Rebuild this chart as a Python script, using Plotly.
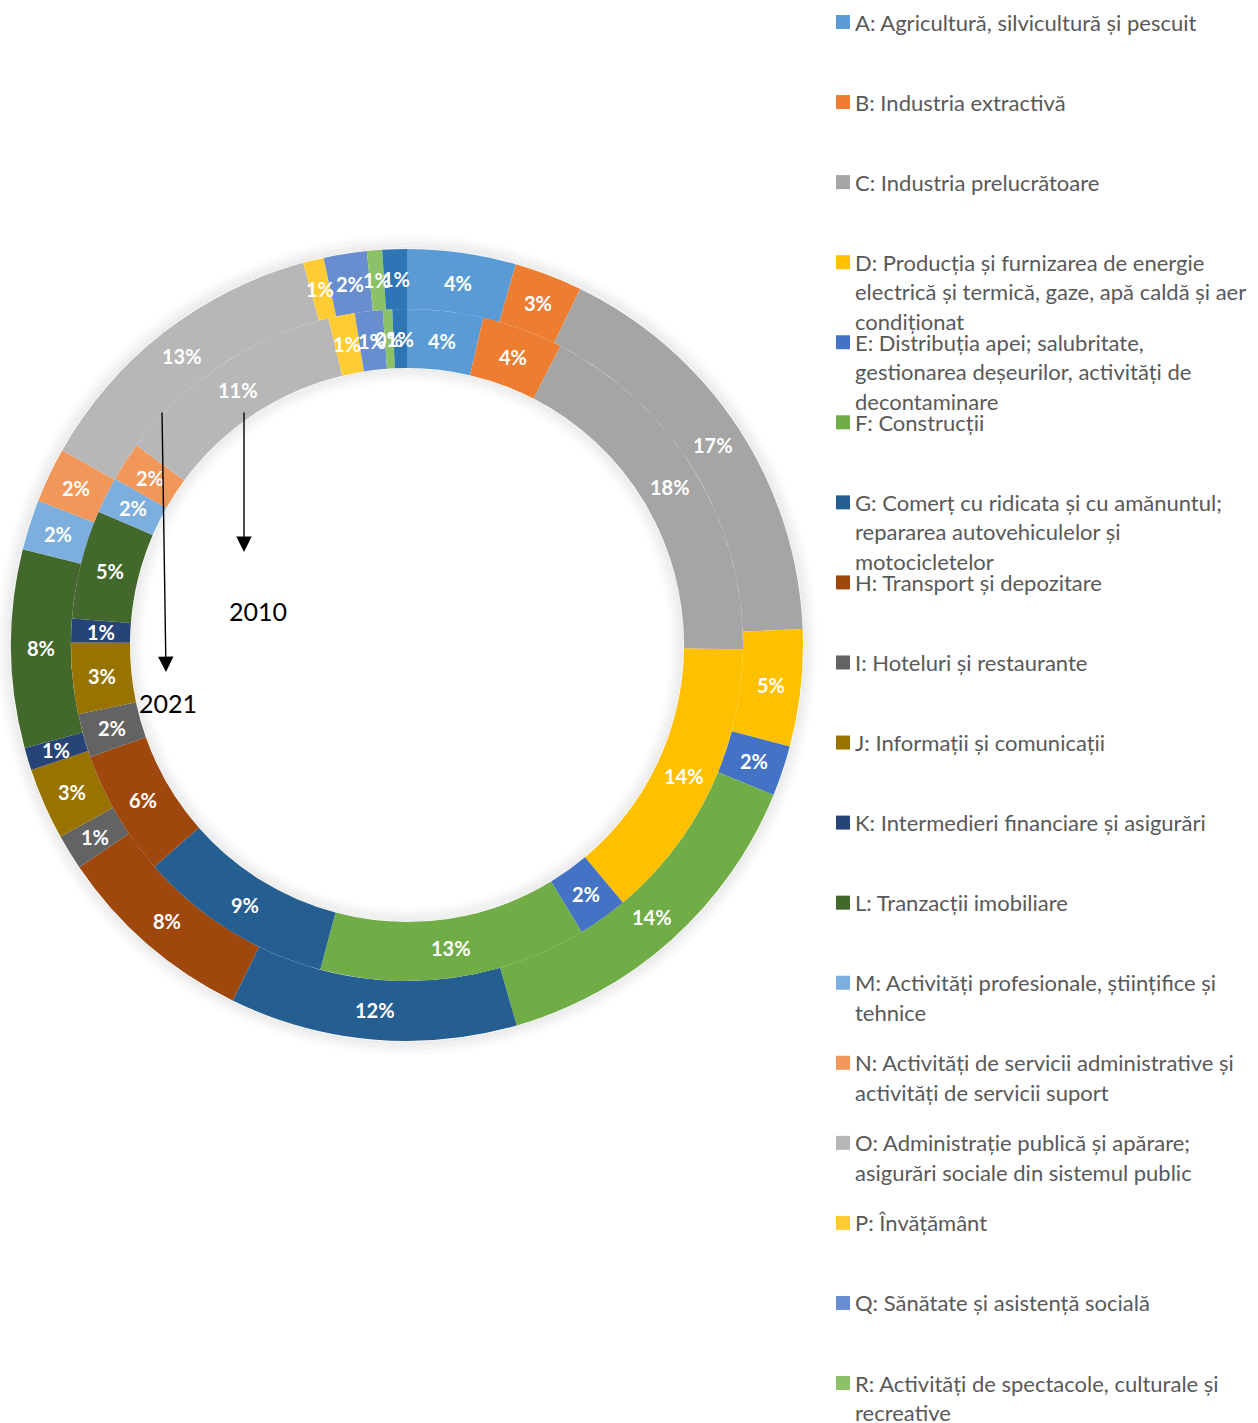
import math
import plotly.graph_objects as go

W, H = 1258, 1423

# ---------------- data ----------------
codes = ["A", "B", "C", "D", "E", "F", "G", "H", "I", "J", "K", "L", "M", "N", "O", "P", "Q", "R", "S"]

names = [
    "A: Agricultură, silvicultură și pescuit",
    "B: Industria extractivă",
    "C: Industria prelucrătoare",
    "D: Producția și furnizarea de energie electrică și termică, gaze, apă caldă și aer condiționat",
    "E: Distribuția apei; salubritate, gestionarea deșeurilor, activități de decontaminare",
    "F: Construcții",
    "G: Comerț cu ridicata și cu amănuntul; repararea autovehiculelor și motocicletelor",
    "H: Transport și depozitare",
    "I: Hoteluri și restaurante",
    "J: Informații și comunicații",
    "K: Intermedieri financiare și asigurări",
    "L: Tranzacții imobiliare",
    "M: Activități profesionale, științifice și tehnice",
    "N: Activități de servicii administrative și activități de servicii suport",
    "O: Administrație publică și apărare; asigurări sociale din sistemul public",
    "P: Învățământ",
    "Q: Sănătate și asistență socială",
    "R: Activități de spectacole, culturale și recreative",
    "S: Alte activități de servicii",
]

# legend text as wrapped in the reference (S is cut off there)
legend_lines = [
    ["A: Agricultură, silvicultură și pescuit"],
    ["B: Industria extractivă"],
    ["C: Industria prelucrătoare"],
    ["D: Producția și furnizarea de energie", "electrică și termică, gaze, apă caldă și aer", "condiționat"],
    ["E: Distribuția apei; salubritate,", "gestionarea deșeurilor, activități de", "decontaminare"],
    ["F: Construcții"],
    ["G: Comerț cu ridicata și cu amănuntul;", "repararea autovehiculelor și", "motocicletelor"],
    ["H: Transport și depozitare"],
    ["I: Hoteluri și restaurante"],
    ["J: Informații și comunicații"],
    ["K: Intermedieri financiare și asigurări"],
    ["L: Tranzacții imobiliare"],
    ["M: Activități profesionale, științifice și", "tehnice"],
    ["N: Activități de servicii administrative și", "activități de servicii suport"],
    ["O: Administrație publică și apărare;", "asigurări sociale din sistemul public"],
    ["P: Învățământ"],
    ["Q: Sănătate și asistență socială"],
    ["R: Activități de spectacole, culturale și", "recreative"],
]

# shares (%) - outer ring 2021, inner ring 2010
values_2021 = [4.43, 2.78, 17.16, 4.77, 2.05, 14.36, 11.73, 8.26, 1.44, 2.94, 0.92,
               8.08, 2.05, 2.25, 12.6, 0.84, 1.76, 0.62, 1.0]
values_2010 = [3.65, 3.9, 17.65, 13.7, 2.4, 12.86, 9.38, 6.06, 2.1, 3.43, 1.14,
               5.23, 1.75, 1.88, 11.12, 1.27, 1.34, 0.45, 0.7]

colors = ["#5B9BD5", "#ED7D31", "#A5A5A5", "#FFC000", "#4472C4", "#70AD47",
          "#255E91", "#9E480E", "#636363", "#997300", "#264478", "#43682B",
          "#7CAFDD", "#F1975A", "#B7B7B7", "#FFCD33", "#698ED0", "#8CC168", "#2E75B6"]

years = ["2021", "2010"]

# ---------------- geometry (pixels) ----------------
CX, CY = 407, 645
R_OUT, R_MID, R_IN = 396, 336, 277


def px(x):
    return x / W


def py(y):
    return 1 - y / H


fig = go.Figure()

rings = [(years[0], values_2021, R_OUT, R_MID), (years[1], values_2010, R_MID, R_IN)]
for yr, vals, r1, r0 in rings:
    fig.add_trace(go.Pie(
        name=yr,
        labels=names,
        values=vals,
        hole=r0 / r1,
        sort=False,
        direction="clockwise",
        rotation=0,
        marker=dict(colors=colors, line=dict(width=0)),
        textinfo="none",
        hovertemplate="%{label}<br>" + yr + ": %{percent:.0%}<extra></extra>",
        domain=dict(x=[px(CX - r1), px(CX + r1)], y=[py(CY + r1), py(CY - r1)]),
        showlegend=False,
    ))

annotations = []
shapes = []

# data labels, placed at the middle of each ring segment
for yr, vals, r1, r0 in rings:
    tot = sum(vals)
    cum = 0.0
    rm = (r1 + r0) / 2
    for v in vals:
        f = (cum + v / 2) / tot
        th = 2 * math.pi * f
        x = CX + rm * math.sin(th)
        y = CY - rm * math.cos(th)
        annotations.append(dict(
            x=px(x), y=py(y), xref="paper", yref="paper",
            text=f"{v / tot:.0%}", showarrow=False,
            font=dict(family="Lato", size=20, color="white", weight="bold"),
            xanchor="center", yanchor="middle",
        ))
        cum += v

# soft shadow around the donut
for k in range(1, 12):
    a = 0.075 * (1 - k / 12)
    for r in (R_OUT + k * 1.3, R_IN - k * 1.3):
        shapes.append(dict(
            type="circle", xref="paper", yref="paper", layer="below",
            x0=px(CX - r), x1=px(CX + r), y0=py(CY + r), y1=py(CY - r),
            line=dict(color=f"rgba(0,0,0,{a:.3f})", width=1.5),
        ))

# legend (manual, as in the reference: fixed 80px rows)
LEG_X_BOX, LEG_X_TXT, LEG_Y0, LEG_STEP, LINE_STEP, BOX = 836, 853, 22, 80.06, 29.5, 14
for i, lines in enumerate(legend_lines):
    yc = LEG_Y0 + i * LEG_STEP
    shapes.append(dict(
        type="rect", xref="paper", yref="paper",
        x0=px(LEG_X_BOX), x1=px(LEG_X_BOX + BOX), y0=py(yc + BOX / 2), y1=py(yc - BOX / 2),
        fillcolor=colors[i], line=dict(width=0),
    ))
    for j, ln in enumerate(lines):
        annotations.append(dict(
            x=px(LEG_X_TXT), y=py(yc + j * LINE_STEP), xref="paper", yref="paper",
            text=ln, showarrow=False, xanchor="left", yanchor="middle",
            font=dict(family="Lato", size=22, color="#595959"),
        ))

# arrows and year labels
arrow_specs = [((166, 672), (162, 411)), ((244, 552), (244, 411))]
for (tx, ty), (sx, sy) in arrow_specs:
    annotations.append(dict(
        x=px(tx), y=py(ty), xref="paper", yref="paper", text="",
        showarrow=True, ax=sx - tx, ay=sy - ty, axref="pixel", ayref="pixel",
        arrowhead=2, arrowsize=2.2, arrowwidth=1.4, arrowcolor="black", standoff=0,
    ))
for yr, (x, y) in zip(years, [(168, 703), (258, 611)]):
    annotations.append(dict(
        x=px(x), y=py(y), xref="paper", yref="paper", text=yr, showarrow=False,
        xanchor="center", yanchor="middle",
        font=dict(family="Lato", size=25, color="black"),
    ))

fig.update_layout(
    width=W, height=H,
    margin=dict(l=0, r=0, t=0, b=0),
    paper_bgcolor="white", plot_bgcolor="white",
    annotations=annotations, shapes=shapes,
    showlegend=False,
)

fig.write_html(
    "out.html",
    config={"displayModeBar": False},
    post_script="document.body.style.margin='0';document.body.style.overflow='hidden';",
)
